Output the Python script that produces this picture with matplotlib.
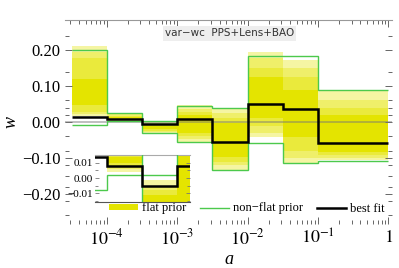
import numpy as np
import matplotlib
matplotlib.use('Agg')
import matplotlib.pyplot as plt
from matplotlib.patches import Patch
from matplotlib.lines import Line2D

plt.rcParams['mathtext.fontset'] = 'stix'

# bin edges in a (log10 half-decades)
log_edges = [-4.5, -4.0, -3.5, -3.0, -2.5, -2.0, -1.5, -1.0, 0.0]

# best fit w in each bin
best_fit = [0.014, 0.008, -0.005, 0.008, -0.055, 0.049, 0.035, -0.059]

# non-flat prior envelope
nonflat_hi = [0.200, 0.026, 0.002, 0.045, 0.038, 0.184, 0.184, 0.088]
nonflat_lo = [-0.008, 0.002, -0.031, -0.056, -0.135, -0.059, -0.115, -0.108]

# flat prior bands, outer -> inner
flat_lo = [
    [0.017, 0.004, -0.031, -0.055, -0.133, -0.042, -0.115, -0.106],
    [0.022, 0.006, -0.028, -0.048, -0.120, -0.030, -0.100, -0.100],
    [0.028, 0.008, -0.024, -0.040, -0.110, -0.010, -0.080, -0.092],
    [0.047, 0.010, -0.020, -0.030, -0.097, 0.011, -0.041, -0.083],
]
flat_hi = [
    [0.211, 0.026, -0.001, 0.046, 0.038, 0.195, 0.172, 0.086],
    [0.194, 0.022, -0.005, 0.036, 0.025, 0.177, 0.150, 0.061],
    [0.178, 0.018, -0.008, 0.028, 0.010, 0.150, 0.125, 0.040],
    [0.119, 0.014, -0.011, 0.020, -0.003, 0.126, 0.090, 0.019],
]
band_colors = ['#f5f5a3', '#efef6a', '#eaea3c', '#e4e400']

ytick_vals = [-0.2, -0.1, 0.0, 0.1, 0.2]
ytick_labels = ['\u22120.20', '\u22120.10', '0.00', '0.10', '0.20']
inset_ticks = [-0.01, 0.0, 0.01]
inset_labels = ['\u22120.01', '0.00', '0.01']
xtick_vals = [1e-4, 1e-3, 1e-2, 1e-1, 1]
xtick_labels = ['$10^{-4}$', '$10^{-3}$', '$10^{-2}$', '$10^{-1}$', '$1$']

edges = 10.0 ** np.array(log_edges)
green = '#4cc94c'
serif = ['Liberation Serif', 'DejaVu Serif']


def draw_bins(ax, zero_line=True):
    for lo, hi, c in zip(flat_lo, flat_hi, band_colors):
        ax.stairs(hi, edges, baseline=lo, fill=True, color=c, lw=0, zorder=1)
    if zero_line:
        ax.axhline(0, color='#777777', alpha=0.55, lw=1.2, zorder=2)
    ax.stairs(nonflat_hi, edges, baseline=None, color=green, lw=1.0, zorder=3)
    ax.stairs(nonflat_lo, edges, baseline=None, color=green, lw=1.0, zorder=3)
    ax.stairs(best_fit, edges, baseline=None, color='black', lw=1.8, zorder=4)


W, H = 399, 268
fig = plt.figure(figsize=(W / 100, H / 100), dpi=100)
ax = fig.add_axes([65 / W, 1 - 224 / H, 327 / W, 204 / H])
draw_bins(ax)
ax.set_xscale('log')
ax.set_xlim(10 ** -4.595, 10 ** 0.05)
ax.set_ylim(-0.284, 0.284)

for s in ['left', 'right', 'bottom']:
    ax.spines[s].set_visible(False)
ax.spines['top'].set_color('#999999')
ax.spines['top'].set_linewidth(0.8)

ax.set_yticks(ytick_vals)
ax.set_yticklabels(ytick_labels, family=serif, fontsize=12)
ax.set_yticks([0.24, 0.14, 0.06, 0.04, 0.02, -0.04, -0.08, -0.12, -0.15,
               -0.18, -0.22, -0.26], minor=True)
ax.set_xticks(xtick_vals)
ax.set_xticklabels(xtick_labels, fontsize=13)
ax.tick_params(which='both', direction='in', top=True, right=True,
               color='#666666', width=0.7)
ax.tick_params(which='major', length=5, pad=3)
ax.tick_params(which='minor', length=3)

ax.set_xlabel('a', family=serif, fontstyle='italic', fontsize=13)
ax.xaxis.set_label_coords(0.5, (224 - 251) / 204)
ax.set_ylabel('w', family=serif, fontstyle='italic', fontsize=13)
ax.yaxis.set_label_coords((20 - 65) / 327, 0.5)

ax.text(0.503, 0.934, 'var\u2212wc  PPS+Lens+BAO', transform=ax.transAxes,
        ha='center', va='center', fontsize=7.5, color='#333333',
        bbox=dict(fc='#eeeeee', ec='none', pad=1.5), zorder=6)

handles = [Patch(fc='#e4e400', ec='none'),
           Line2D([], [], color=green, lw=1.0),
           Line2D([], [], color='black', lw=1.8)]
ax.legend(handles, ['flat prior', 'non\u2212flat prior', 'best fit'],
          loc='center', bbox_to_anchor=((247 - 65) / 327, (224 - 208.5) / 204),
          ncol=3, frameon=False, prop={'family': serif, 'size': 9},
          handlelength=2.3, handleheight=0.45, handletextpad=0.35,
          columnspacing=1.1, borderaxespad=0)

# zoomed inset around w = 0, same x scale
ins = fig.add_axes([95 / W, 1 - 201.7 / H, 95 / W, 46.7 / H])
ins.set_facecolor('white')
draw_bins(ins, zero_line=False)
ins.set_xscale('log')
ins.set_xlim(10 ** -4.169, 10 ** -2.82)
ins.set_ylim(-0.0154, 0.0150)
ins.spines['left'].set_visible(False)
ins.spines['right'].set_visible(False)
ins.spines['top'].set_color('#aaaaaa')
ins.spines['bottom'].set_color('#555555')
ins.set_xticks([])
ins.set_xticks([], minor=True)
ins.set_yticks(inset_ticks)
ins.set_yticklabels(inset_labels, family=serif, fontsize=8)
ins.set_yticks(np.arange(-0.015, 0.0151, 0.005), minor=True)
ins.tick_params(which='both', direction='in', right=True, color='#777777',
                width=0.6, pad=1.5)
ins.tick_params(which='major', length=3)
ins.tick_params(which='minor', length=2)

fig.savefig('out.png', dpi=100)
